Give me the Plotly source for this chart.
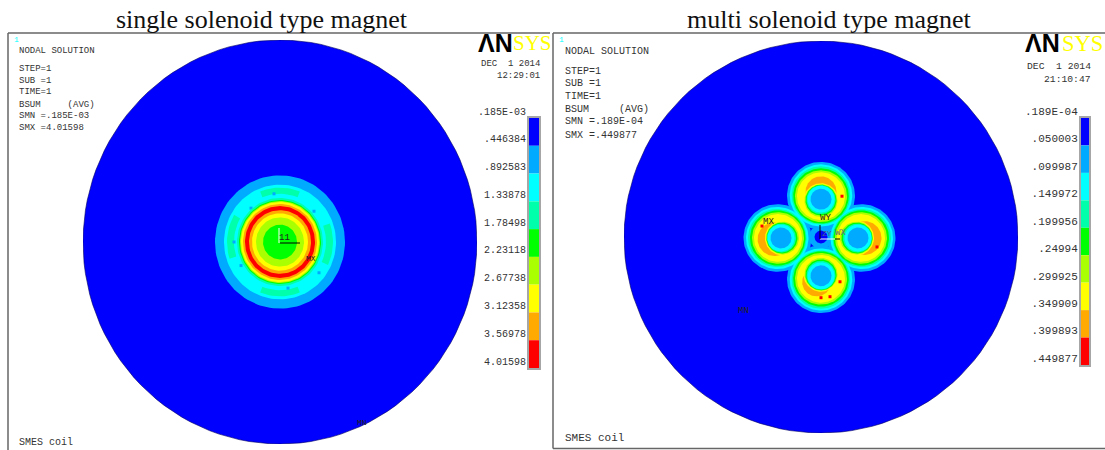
import numpy as np
import plotly.graph_objects as go

W, H = 1105, 450

# ANSYS contour palette
BLUE, LB, CYAN, TEAL, GREEN, YG, YELLOW, ORANGE, RED = (
    "#0000ff", "#00aaff", "#00ffff", "#00ffaa", "#00ff00",
    "#aaff00", "#ffff00", "#ffaa00", "#ff0000")
PALETTE = [BLUE, LB, CYAN, TEAL, GREEN, YG, YELLOW, ORANGE, RED]

# Contour levels, from the legends
SINGLE_LEVELS = [0.000185, 0.446384, 0.892583, 1.33878, 1.78498, 2.23118, 2.67738, 3.12358, 3.56978, 4.01598]
SINGLE_LABELS = [".185E-03", ".446384", ".892583", "1.33878", "1.78498", "2.23118", "2.67738", "3.12358", "3.56978", "4.01598"]
MULTI_LEVELS = [0.0000189, 0.050003, 0.099987, 0.149972, 0.199956, 0.24994, 0.299925, 0.349909, 0.399893, 0.449877]
MULTI_LABELS = [".189E-04", ".050003", ".099987", ".149972", ".199956", ".24994", ".299925", ".349909", ".399893", ".449877"]

# Single solenoid: contour band radii, outermost first
SINGLE_RADII = [197, 65, 56, 43, 41, 40, 39, 37, 35, 31, 28, 24, 17]
SINGLE_COLORS = [BLUE, LB, CYAN, TEAL, GREEN, YG, YELLOW, ORANGE, RED, ORANGE, YELLOW, YG, GREEN]
# patches of the next level up inside the cyan band: start deg, end deg, inner, outer
PATCH_START = [68, 248, 150, 335]
PATCH_END = [112, 292, 198, 380]
PATCH_INNER = [47, 47, 46, 46]
PATCH_OUTER = [53, 53, 53, 53]
FLECK_X = [-6, -29, -46, -39, 34, 39, 8]
FLECK_Y = [47, 33, 0, -23, 30, -30, -45]

# Multi solenoid: four coils
COIL_X = [0, 37, 0, -40]
COIL_Y = [38, -1, -39, -1]
COIL_DIR = [90, 0, 270, 180]
# rings shared by all coils: radius and shift away from the bore
OUTER_R = [34, 31.25, 29.25, 27.75, 26, 24]
OUTER_D = [3.5, 3.75, 3.75, 3.25, 3, 3]
OUTER_C = [LB, CYAN, TEAL, GREEN, YG, YELLOW]
INNER_R = [17.5, 16.5, 15.5, 14.5, 13.5, 10.5]
INNER_D = [-1.5, -1.5, -1, -0.5, 0, 0]
INNER_C = [YELLOW, YG, GREEN, TEAL, CYAN, LB]
# orange crescent per coil
CRESCENT_DIR = [90, 0, 235, 190]
CRESCENT_R = [15.5, 17, 14.5, 17]
CRESCENT_D = [7.5, 6.5, 7.5, 6.5]
# hot spots on the coils
SPOT_X = [21, 56, 9, 0, -59, 19]
SPOT_Y = [41, -10, -60, -61, 11, -45]
BORE_R = 6.5
BORE_OUTER_R = 12

px = lambda x: x / W
py = lambda y: 1 - y / H

TH = np.radians(np.arange(0, 361, 3))


def disk(r, cx=0.0, cy=0.0):
    return cx + r * np.cos(TH), cy + r * np.sin(TH)


fig = go.Figure()


def add_fill(x, y, color, xa, ya, line=None):
    fig.add_trace(go.Scatter(
        x=x, y=y, mode="lines", fill="toself", fillcolor=color, xaxis=xa, yaxis=ya,
        line=dict(color=line or color, width=0.6 if line else 0),
        hoverinfo="skip", showlegend=False))


# --- single solenoid ---
for i, (r, c) in enumerate(zip(SINGLE_RADII, SINGLE_COLORS)):
    add_fill(*disk(r), c, "x", "y", line="#000060" if i == 0 else None)
    if r == 56:
        for a0, a1, r0, r1 in zip(PATCH_START, PATCH_END, PATCH_INNER, PATCH_OUTER):
            t = np.radians(np.linspace(a0, a1, 14))
            add_fill(np.r_[r1 * np.cos(t), r0 * np.cos(t[::-1])],
                     np.r_[r1 * np.sin(t), r0 * np.sin(t[::-1])], TEAL, "x", "y")
        fig.add_trace(go.Scatter(x=FLECK_X, y=FLECK_Y, mode="markers", xaxis="x", yaxis="y",
                                 marker=dict(symbol="square", size=3, color=LB),
                                 hoverinfo="skip", showlegend=False))

# --- multi solenoid ---
add_fill(*disk(197), BLUE, "x2", "y2", line="#000060")
add_fill(*disk(BORE_OUTER_R), LB, "x2", "y2")


def coil_centre(k, d, direction=None):
    a = np.radians(COIL_DIR[k] if direction is None else direction)
    return COIL_X[k] + d * np.cos(a), COIL_Y[k] + d * np.sin(a)


for r, d, c in zip(OUTER_R, OUTER_D, OUTER_C):
    for k in range(4):
        add_fill(*disk(r, *coil_centre(k, d)), c, "x2", "y2")
    if c == LB:
        add_fill(*disk(BORE_R), BLUE, "x2", "y2")
for k in range(4):
    add_fill(*disk(CRESCENT_R[k], *coil_centre(k, CRESCENT_D[k], CRESCENT_DIR[k])), ORANGE, "x2", "y2")
for r, d, c in zip(INNER_R, INNER_D, INNER_C):
    for k in range(4):
        add_fill(*disk(r, *coil_centre(k, d)), c, "x2", "y2")
fig.add_trace(go.Scatter(x=SPOT_X, y=SPOT_Y, mode="markers", xaxis="x2", yaxis="y2",
                         marker=dict(symbol="square", size=3, color=RED),
                         hoverinfo="skip", showlegend=False))

# --- legends ---
for levels, xa, ya in ((SINGLE_LEVELS, "x3", "y3"), (MULTI_LEVELS, "x4", "y4")):
    fig.add_trace(go.Bar(
        x=[0] * 9, y=np.diff(levels), base=levels[:-1], width=1,
        marker=dict(color=PALETTE, line=dict(width=0)), xaxis=xa, yaxis=ya,
        hoverinfo="skip", showlegend=False))


def hidden(x0, x1, y0, y1):
    return (dict(visible=False, domain=[px(x0), px(x1)], range=[-197, 197], fixedrange=True),
            dict(visible=False, domain=[py(y1), py(y0)], range=[-197, 197], fixedrange=True))


xa1, ya1 = hidden(83, 477, 40, 444)
xa2, ya2 = hidden(624, 1018, 41, 433)


def legend_axes(x0, x1, y0, y1, levels, labels, size, ax, ay):
    xa = dict(domain=[px(x0), px(x1)], range=[-0.5, 0.5], showticklabels=False, ticks="",
              showgrid=False, zeroline=False, showline=True, mirror=True, anchor=ay,
              linecolor="#a6a6a6", linewidth=2, fixedrange=True)
    ya = dict(domain=[py(y1), py(y0)], range=[levels[-1], levels[0]], tickvals=levels, ticktext=labels,
              ticks="", showgrid=False, zeroline=False, showline=True, mirror=True, anchor=ax,
              linecolor="#a6a6a6", linewidth=2, fixedrange=True,
              ticklabelshift=7, ticklabelstandoff=-1,
              tickfont=dict(family="Liberation Mono", size=size, color="#333333"))
    return xa, ya


xa3, ya3 = legend_axes(529, 539, 118, 368, SINGLE_LEVELS, SINGLE_LABELS, 10, "x3", "y3")
xa4, ya4 = legend_axes(1081, 1089, 118, 365, MULTI_LEVELS, MULTI_LABELS, 11, "x4", "y4")

# --- frames and triads ---
GRAY = "#666666"


def seg(x0, y0, x1, y1, color=GRAY, width=1.5):
    return dict(type="line", xref="paper", yref="paper", x0=px(x0), y0=py(y0), x1=px(x1), y1=py(y1),
                line=dict(color=color, width=width))


shapes = [
    seg(8, 33, 550, 33), seg(8, 33, 8, 450),
    seg(553, 33, 1105, 33), seg(553, 33, 553, 448.5), seg(553, 448.5, 1105, 448.5),
    seg(280, 243, 300, 243, "#000000", 1), seg(279, 228, 279, 243, "#ffffff", 1),
    seg(820, 239, 835, 239, "#ffffff", 1), seg(835, 239, 840, 239, "#000000", 1),
    seg(820, 225, 820, 239, "#000000", 1),
]

# --- text ---
ann = []


def txt(x, y, s, size=9, color="#333333", family="Liberation Mono", anchor="left", **kw):
    ann.append(dict(x=px(x), y=py(y), xref="paper", yref="paper", text=s, showarrow=False,
                    xanchor=anchor, yanchor="middle", align=anchor,
                    font=dict(family=family, size=size, color=color), borderpad=0, **kw))


SERIF = "Liberation Serif"
txt(262, 19, "single solenoid type magnet", 26, "#111111", SERIF, "center")
txt(829, 19, "multi solenoid type magnet", 26, "#111111", SERIF, "center")

for x0, lines, size, ys in (
    (18, ["NODAL SOLUTION", "STEP=1", "SUB =1", "TIME=1", "BSUM     (AVG)", "SMN =.185E-03", "SMX =4.01598"], 9,
     [51, 69, 81, 92, 105, 116, 128]),
    (564, ["NODAL SOLUTION", "STEP=1", "SUB =1", "TIME=1", "BSUM     (AVG)", "SMN =.189E-04", "SMX =.449877"], 10,
     [52, 71, 84, 97, 109, 122, 135]),
):
    for s, y in zip(lines, ys):
        txt(x0, y, s.replace(" ", "\u00a0"), size)

txt(13, 39, "1", 8, "#00ffff")
txt(558, 39, "1", 8, "#00ffff")
txt(18, 442, "SMES coil", 10)
txt(564, 438, "SMES coil", 11)

txt(541, 64, "DEC\u00a0\u00a01\u00a02014", 9, anchor="right")
txt(541, 76, "12:29:01", 9, anchor="right")
txt(1092, 66, "DEC\u00a0\u00a01\u00a02014", 9.7, anchor="right")
txt(1092, 79, "21:10:47", 9.7, anchor="right")

for xa_, xb, sz in ((478, 512, 21), (1025, 1061, 22.5)):
    txt(xa_ - 1, 43, "<b>\u039bN</b>", 25, "#000000", "Liberation Sans")
    txt(xb, 43, "SYS", sz, "#ffff00", SERIF)

txt(311, 258, "MX", 8, "#222222", anchor="center")
txt(284, 238, "11", 9, "#222222", anchor="center")
txt(362, 422, "MN", 8, "#222222", anchor="center")
txt(768, 222, "MX", 9, "#222222", anchor="center")
txt(825, 218, "WY", 9, "#222222", anchor="center")
txt(827, 233, "ZY", 8, "#446688", anchor="center")
txt(840, 233, "WX", 9, "#666688", anchor="center")
txt(743, 311, "MN", 9, "#222222", anchor="center")

fig.update_layout(
    width=W, height=H, margin=dict(l=0, r=0, t=0, b=0, pad=0, autoexpand=False), autosize=False,
    paper_bgcolor="white", plot_bgcolor="rgba(0,0,0,0)", barmode="overlay", showlegend=False,
    xaxis=xa1, yaxis=ya1, xaxis2=xa2, yaxis2=ya2,
    xaxis3=xa3, yaxis3=ya3, xaxis4=xa4, yaxis4=ya4,
    shapes=shapes, annotations=ann, dragmode=False,
)

fig.write_html("out.html", config=dict(displayModeBar=False),
               post_script="document.body.style.margin='0';")
